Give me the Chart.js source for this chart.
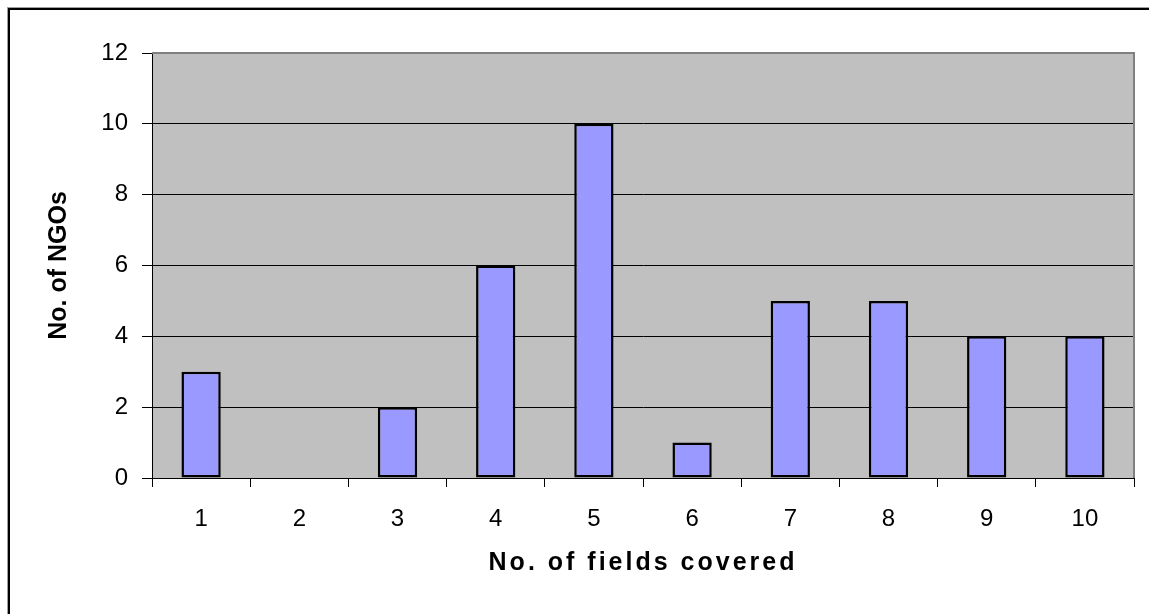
<!DOCTYPE html>
<html>
<head>
<meta charset="utf-8">
<script src="https://cdn.jsdelivr.net/npm/chart.js@4.4.1/dist/chart.umd.min.js"></script>
<style>
  html, body { margin: 0; padding: 0; background: #fff; }
  #wrap { width: 1149px; height: 614px; position: relative; }
</style>
</head>
<body>
<div id="wrap"><canvas id="grafico" width="1149" height="614"></canvas></div>
<script>
// dados
const categorias = ['1', '2', '3', '4', '5', '6', '7', '8', '9', '10'];
const numeroOngs = [3, 0, 2, 6, 10, 1, 5, 5, 4, 4];
const ticksY = [0, 2, 4, 6, 8, 10, 12];

const tituloX = 'No. of fields covered';
const tituloY = 'No. of NGOs';

// título com espaçamento entre letras (o original é bem "esticado")
function espacarTitulo(scale, espaco) {
    if (scale._espacado) return;
    const original = scale.drawTitle.bind(scale);
    scale.drawTitle = function () {
        this.ctx.save();
        this.ctx.letterSpacing = espaco;
        original();
        this.ctx.restore();
    };
    scale._espacado = true;
}

// moldura externa + fundo cinza da área do gráfico
const moldura = {
    id: 'moldura',
    beforeDraw(chart) {
        const ctx = chart.ctx;
        const a = chart.chartArea;
        ctx.save();
        ctx.fillStyle = '#ffffff';
        ctx.fillRect(0, 0, chart.width, chart.height);
        // borda externa (só esquerda e topo aparecem)
        ctx.fillStyle = '#a0a0a0';
        ctx.fillRect(7, 7, chart.width, 1);
        ctx.fillRect(7, 7, 1, chart.height);
        ctx.fillStyle = '#000000';
        ctx.fillRect(8, 8, chart.width, 2);
        ctx.fillRect(8, 8, 2, chart.height);
        ctx.fillStyle = '#c0c0c0';
        ctx.fillRect(a.left, a.top, a.right - a.left, a.bottom - a.top);
        ctx.restore();
    },
    afterDatasetsDraw(chart) {
        const ctx = chart.ctx;
        const a = chart.chartArea;
        ctx.save();
        // borda cinza em cima e à direita
        ctx.strokeStyle = '#808080';
        ctx.lineWidth = 2;
        ctx.beginPath();
        ctx.moveTo(a.left, a.top);
        ctx.lineTo(a.right, a.top);
        ctx.lineTo(a.right, a.bottom);
        ctx.stroke();
        ctx.restore();
    }
};

const ctx = document.getElementById('grafico').getContext('2d');
new Chart(ctx, {
    type: 'bar',
    data: {
        labels: categorias,
        datasets: [{
            data: numeroOngs,
            backgroundColor: '#9999ff',
            borderColor: '#000000',
            borderWidth: 2.5,
            borderSkipped: false,
            barPercentage: 0.4,
            categoryPercentage: 1.0
        }]
    },
    options: {
        responsive: false,
        animation: false,
        devicePixelRatio: 1,
        layout: { padding: { top: 53, right: 15, left: 0, bottom: 0 } },
        plugins: {
            legend: { display: false },
            tooltip: { enabled: false }
        },
        scales: {
            x: {
                grid: {
                    display: true,
                    drawOnChartArea: false,
                    drawTicks: true,
                    tickLength: 9,
                    color: '#000000',
                    offset: true
                },
                border: { display: true, color: '#000000', width: 1 },
                ticks: {
                    color: '#000000',
                    font: { family: 'Liberation Sans, Arial', size: 24 },
                    padding: 18,
                    maxRotation: 0
                },
                title: {
                    display: true,
                    text: tituloX,
                    color: '#000000',
                    font: { family: 'Liberation Sans, Arial', size: 25, weight: 'bold' },
                    padding: { top: 0, bottom: 36 }
                },
                afterFit(scale) {
                    scale.height = 136;
                    espacarTitulo(scale, '3px');
                }
            },
            y: {
                min: 0,
                max: 12,
                afterBuildTicks(scale) { scale.ticks = ticksY.map(v => ({ value: v })); },
                grid: {
                    color: '#000000',
                    lineWidth: 1,
                    tickLength: 10,
                    drawTicks: true
                },
                border: { display: true, color: '#000000', width: 1 },
                ticks: {
                    color: '#000000',
                    font: { family: 'Liberation Sans, Arial', size: 24 },
                    padding: 14
                },
                title: {
                    display: true,
                    text: tituloY,
                    color: '#000000',
                    font: { family: 'Liberation Sans, Arial', size: 25, weight: 'bold' },
                    padding: { top: 44, bottom: 0 }
                },
                afterFit(scale) {
                    scale.width = 152;
                }
            }
        }
    },
    plugins: [moldura]
});
</script>
</body>
</html>
